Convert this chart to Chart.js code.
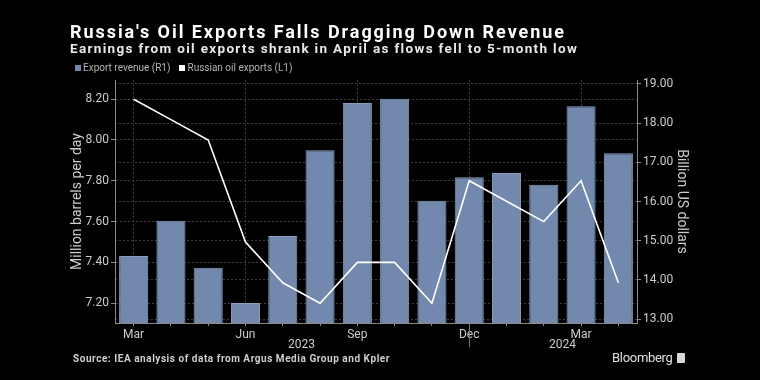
<!DOCTYPE html>
<html>
<head>
<meta charset="utf-8">
<script src="https://cdn.jsdelivr.net/npm/chart.js@4.4.1/dist/chart.umd.min.js"></script>
<style>
  html, body { margin: 0; padding: 0; background: #000; }
  #wrap { position: relative; width: 760px; height: 380px; overflow: hidden; background: #000; }
  #chart { position: absolute; left: 0; top: 0; }
  .txt { position: absolute; white-space: nowrap; color: #fff; font-family: "Roboto", "Liberation Sans", sans-serif; }
  #title { left: 70px; top: 21px; font-size: 18px; font-weight: bold; }
  #subtitle { left: 70px; top: 40px; font-size: 13.5px; font-weight: bold; color: #e8e8e8; }
  #legend { left: 75px; top: 62px; font-size: 10px; color: #b4b4b4; }
  #legend .item { display: inline-block; margin-right: 9px; }
  #legend .sw { display: inline-block; width: 6px; height: 6px; margin-right: 2px; vertical-align: 0px; }
  #source { left: 73px; top: 353px; font-size: 10px; font-weight: bold; color: #cfcfcf; }
  #brand { left: 612px; top: 350px; font-size: 13px; color: #e0e0e0; letter-spacing: -0.3px; }
  #brand span { display: inline-block; width: 8px; height: 10px; background: #d8d8d8; border-radius: 1px; margin-left: 4px; vertical-align: -1px; }
</style>
</head>
<body>
<div id="wrap">
  <canvas id="chart" width="760" height="380"></canvas>
  <div id="title" class="txt">Russia's Oil Exports Falls Dragging Down Revenue</div>
  <div id="subtitle" class="txt">Earnings from oil exports shrank in April as flows fell to 5-month low</div>
  <div id="legend" class="txt"></div>
  <div id="source" class="txt">Source: IEA analysis of data from Argus Media Group and Kpler</div>
  <div id="brand" class="txt">Bloomberg<span></span></div>
</div>
<script>
// months Mar 2023 .. Apr 2024
const months = ['Mar', 'Apr', 'May', 'Jun', 'Jul', 'Aug', 'Sep', 'Oct', 'Nov', 'Dec', 'Jan', 'Feb', 'Mar', 'Apr'];
const years = ['2023', '2023', '2023', '2023', '2023', '2023', '2023', '2023', '2023', '2023', '2024', '2024', '2024', '2024'];

// Export revenue, billion US$ (right axis)
const revenue = [14.61, 15.51, 14.31, 13.41, 15.12, 17.31, 18.51, 18.62, 16.02, 16.62, 16.73, 16.43, 18.43, 17.23];
// Russian oil exports, million barrels per day (left axis)
const exportsMbd = [8.20, 8.10, 8.00, 7.50, 7.30, 7.20, 7.40, 7.40, 7.20, 7.80, 7.70, 7.60, 7.80, 7.30];

const leftTicks = [7.20, 7.40, 7.60, 7.80, 8.00, 8.20];
const rightTicks = [13, 14, 15, 16, 17, 18, 19];

const barColor = '#7289ad';
const lineColor = '#ffffff';
const gridColor = '#3c3c3c';
const axisColor = '#8a8a8a';
const labelColor = '#cccccc';
const font = "'Roboto', 'Liberation Sans', sans-serif";

// fit a text line to the width it has in the picture
function fitWidth(id, target) {
    const el = document.getElementById(id);
    const w = el.getBoundingClientRect().width;
    const n = el.textContent.length;
    el.style.letterSpacing = ((target - w) / n) + 'px';
}
fitWidth('title', 496);
fitWidth('subtitle', 508);
fitWidth('source', 317);

// year labels under the month axis, plus the separator
const yearLabels = {
    id: 'yearLabels',
    afterDraw(chart) {
        const x = chart.scales.x;
        const ctx = chart.ctx;
        ctx.save();
        ctx.font = '12px ' + font;
        ctx.fillStyle = labelColor;
        ctx.textAlign = 'center';
        ctx.textBaseline = 'middle';
        const groups = {};
        years.forEach((y, i) => {
            (groups[y] = groups[y] || []).push(i);
        });
        Object.keys(groups).forEach(y => {
            const idx = groups[y];
            const a = x.getPixelForValue(idx[0]);
            const b = x.getPixelForValue(idx[idx.length - 1]);
            ctx.fillText(y, (a + b) / 2, x.bottom - 8);
        });
        // separator at last month of 2023
        const sep = x.getPixelForValue(groups['2023'][groups['2023'].length - 1]);
        ctx.strokeStyle = '#777';
        ctx.lineWidth = 1;
        ctx.beginPath();
        ctx.moveTo(Math.round(sep) + 0.5, x.top + 2);
        ctx.lineTo(Math.round(sep) + 0.5, x.top + 24);
        ctx.stroke();
        ctx.restore();
    }
};

const chart = new Chart(document.getElementById('chart'), {
    type: 'bar',
    data: {
        labels: months,
        datasets: [{
            type: 'line',
            label: 'Russian oil exports (L1)',
            data: exportsMbd,
            yAxisID: 'y',
            borderColor: lineColor,
            backgroundColor: lineColor,
            borderWidth: 1.6,
            pointRadius: 0,
            tension: 0
        }, {
            label: 'Export revenue (R1)',
            data: revenue,
            yAxisID: 'y1',
            backgroundColor: barColor,
            borderColor: '#8a9dbd',
            borderWidth: 1,
            barPercentage: 0.78,
            categoryPercentage: 1
        }]
    },
    options: {
        responsive: false,
        animation: false,
        layout: {
            padding: { left: 69, right: 70, top: 80, bottom: 27 }
        },
        plugins: {
            legend: { display: false },
            tooltip: { enabled: false }
        },
        scales: {
            x: {
                offset: true,
                afterFit: function(scale) { scale.height = 30; },
                grid: {
                    offset: false,
                    color: ctx => (ctx.index % 3 === 0 ? gridColor : 'transparent'),
                    tickColor: axisColor,
                    tickLength: 3
                },
                border: { color: axisColor, dash: [2, 2] },
                ticks: {
                    autoSkip: false,
                    maxRotation: 0,
                    color: labelColor,
                    padding: 2,
                    font: { family: font, size: 12 },
                    callback: function(v, i) { return i % 3 === 0 ? months[i] : ''; }
                }
            },
            y: {
                position: 'left',
                min: 7.103,
                max: 8.294,
                afterFit: function(scale) { scale.width = 46; },
                afterBuildTicks: function(scale) {
                    scale.ticks = leftTicks.map(v => ({ value: v }));
                },
                grid: { color: gridColor, tickColor: axisColor, tickLength: 4 },
                border: { color: axisColor, dash: [2, 2] },
                ticks: {
                    color: labelColor,
                    padding: 2,
                    font: { family: font, size: 12 },
                    callback: v => v.toFixed(2)
                },
                title: {
                    display: true,
                    text: 'Million barrels per day',
                    color: labelColor,
                    font: { family: font, size: 14 },
                    padding: 0
                }
            },
            y1: {
                position: 'right',
                min: 12.9,
                max: 19.1,
                afterFit: function(scale) { scale.width = 53; },
                afterBuildTicks: function(scale) {
                    scale.ticks = rightTicks.map(v => ({ value: v }));
                },
                grid: { color: gridColor, tickColor: axisColor, tickLength: 4 },
                border: { color: axisColor, dash: [2, 2] },
                ticks: {
                    color: labelColor,
                    padding: 2,
                    font: { family: font, size: 12 },
                    callback: v => v.toFixed(2)
                },
                title: {
                    display: true,
                    text: 'Billion US dollars',
                    color: labelColor,
                    font: { family: font, size: 14 },
                    padding: 0
                }
            }
        }
    },
    plugins: [yearLabels]
});

// legend: bars first, then the line, as in the original
const legend = document.getElementById('legend');
chart.data.datasets.slice().reverse().forEach(ds => {
    const item = document.createElement('span');
    item.className = 'item';
    const sw = document.createElement('span');
    sw.className = 'sw';
    sw.style.background = ds.backgroundColor;
    item.appendChild(sw);
    item.appendChild(document.createTextNode(ds.label));
    legend.appendChild(item);
});
</script>
</body>
</html>
